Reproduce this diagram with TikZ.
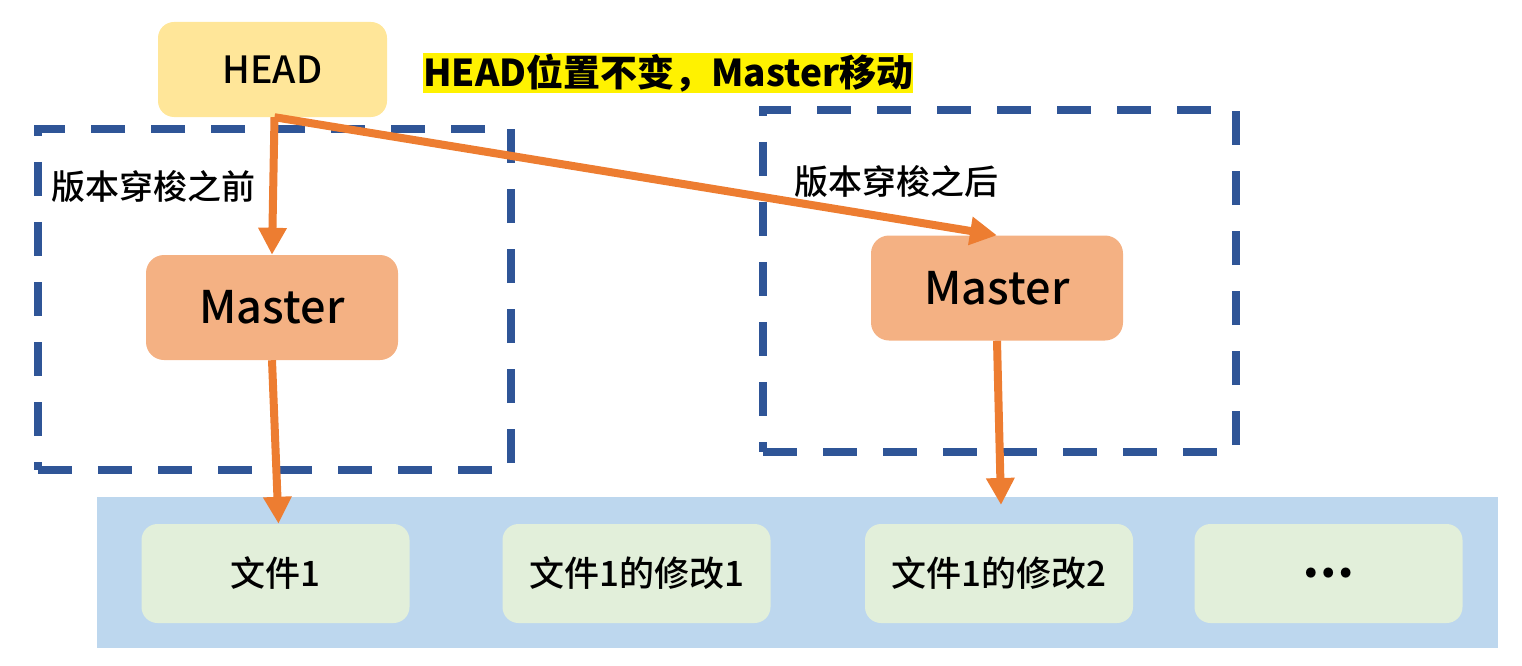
\documentclass[tikz,border=0pt]{standalone}
\usepackage{fontspec}
\setmainfont{Noto Sans CJK SC}
\newfontfamily\medf{Noto Sans CJK SC Medium}
\usetikzlibrary{arrows.meta}
\definecolor{headc}{HTML}{FFE699}
\definecolor{masterc}{HTML}{F4B183}
\definecolor{filec}{HTML}{E2EFDA}
\definecolor{bandc}{HTML}{BDD7EE}
\definecolor{dashc}{HTML}{2F5597}
\definecolor{arrc}{HTML}{ED7D31}
\begin{document}
\begin{tikzpicture}[x=1bp,y=-1bp,
  rbox/.style={rounded corners=16bp, inner sep=0, draw=none},
  filebox/.style={rbox, fill=filec, minimum width=268bp, minimum height=99bp, font=\fontsize{35bp}{40bp}\selectfont\medf},
  masterbox/.style={rbox, fill=masterc, minimum width=252bp, minimum height=105bp, rounded corners=18bp, font=\fontsize{45bp}{50bp}\selectfont\medf},
  dashbox/.style={draw=dashc, line width=8bp, dash pattern=on 34bp off 26bp, inner sep=0, fill=none},
  lbl/.style={anchor=west, inner sep=0, font=\fontsize{34bp}{40bp}\selectfont\medf},
  arr/.style={draw=arrc, line width=8bp, -{Triangle[width=27bp,length=27bp]}}
]
\useasboundingbox (0,0) rectangle (1522,666);
% band
\node[fill=bandc, inner sep=0, minimum width=1401bp, minimum height=151bp] (band) at (797.5,572.5) {};
% file boxes
\node[filebox] (f1) at (275.5,573.5) {文件1};
\node[filebox] (f2) at (636.5,573.5) {文件1的修改1};
\node[filebox] (f3) at (999,573.5) {文件1的修改2};
\node[filebox, font=\fontsize{46bp}{50bp}\selectfont\bfseries] (f4) at (1328.5,573.5) {…};
% dashed boxes
\node[dashbox, minimum width=473bp, minimum height=341bp] (boxL) at (274.5,299.5) {};
\node[dashbox, minimum width=473bp, minimum height=342bp] (boxR) at (999.5,281) {};
% labels
\node[lbl] (lblL) at (51,187) {版本穿梭之前};
\node[lbl] (lblR) at (794,182) {版本穿梭之后};
% master boxes
\node[masterbox] (masterL) at (272,307.5) {Master};
\node[masterbox] (masterR) at (997,288) {Master};
% head
\node[rbox, fill=headc, minimum width=229bp, minimum height=95bp, font=\fontsize{37.5bp}{42bp}\selectfont\medf] (head) at (272.5,69.5) {HEAD};
% note
\node[anchor=west, fill=yellow, inner xsep=0, inner ysep=0, minimum height=40bp, font=\fontsize{37bp}{42bp}\selectfont\bfseries] (note) at (423,73) {HEAD位置不变，Master移动};
% arrows
\coordinate (tip4) at (1001,505);
\draw[arr] ([xshift=2bp]head.south) -- (masterL.north);
\draw[arr] ([xshift=2bp]head.south) -- (masterR.north);
\draw[arr] (masterL.south) -- ([xshift=3bp]f1.north);
\draw[arr] (masterR.south) -- (tip4);
\end{tikzpicture}
\end{document}
